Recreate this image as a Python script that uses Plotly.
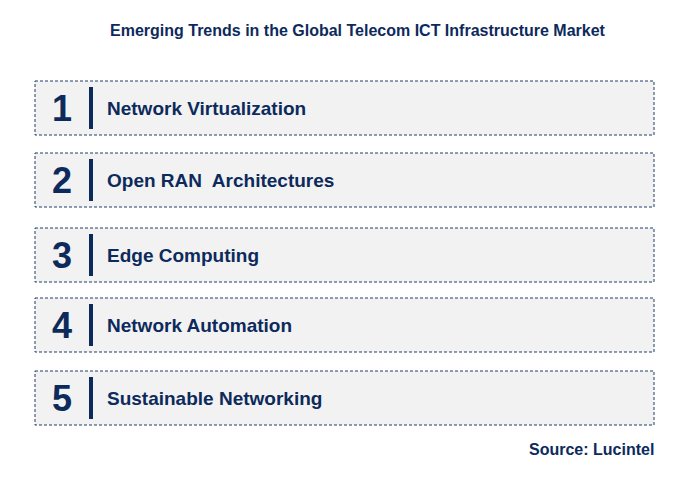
import plotly.graph_objects as go

numbers = ["1", "2", "3", "4", "5"]
trends = ["Network Virtualization", "Open RAN  Architectures", "Edge Computing",
          "Network Automation", "Sustainable Networking"]

navy = "#0d2a5c"
fig = go.Figure()

box_tops = [81, 153, 228, 298, 371]
box_h = 54
for i, (num, label) in enumerate(zip(numbers, trends)):
    y0 = box_tops[i]
    fig.add_shape(type="rect", x0=35, x1=654, y0=y0, y1=y0 + box_h,
                  fillcolor="#f2f2f2", line=dict(color="#1f3a6b", width=1, dash="3px,2px"))
    fig.add_shape(type="line", x0=91, x1=91, y0=y0 + 6, y1=y0 + box_h - 6,
                  line=dict(color=navy, width=4))
    cy = y0 + box_h / 2
    fig.add_annotation(x=62, y=cy, text="<b>%s</b>" % num, showarrow=False,
                       font=dict(size=36, color=navy, family="Arial"))
    fig.add_annotation(x=105, y=cy, text="<b>%s</b>" % label, showarrow=False,
                       xanchor="left", font=dict(size=19, color=navy, family="Arial"))

fig.add_annotation(x=358, y=30, text="<b>Emerging Trends in the Global Telecom ICT Infrastructure Market</b>",
                   showarrow=False, font=dict(size=16, color=navy, family="Arial"))
fig.add_annotation(x=656, y=449, text="<b>Source: Lucintel</b>", showarrow=False,
                   xanchor="right", font=dict(size=16, color=navy, family="Arial"))

# page has an 8px body margin, so shift the view to compensate
fig.update_xaxes(range=[8, 708], visible=False)
fig.update_yaxes(range=[489, 8], visible=False)
fig.update_layout(width=700, height=481, margin=dict(l=0, r=0, t=0, b=0),
                  plot_bgcolor="white", paper_bgcolor="white", showlegend=False)
fig.write_html("out.html")
